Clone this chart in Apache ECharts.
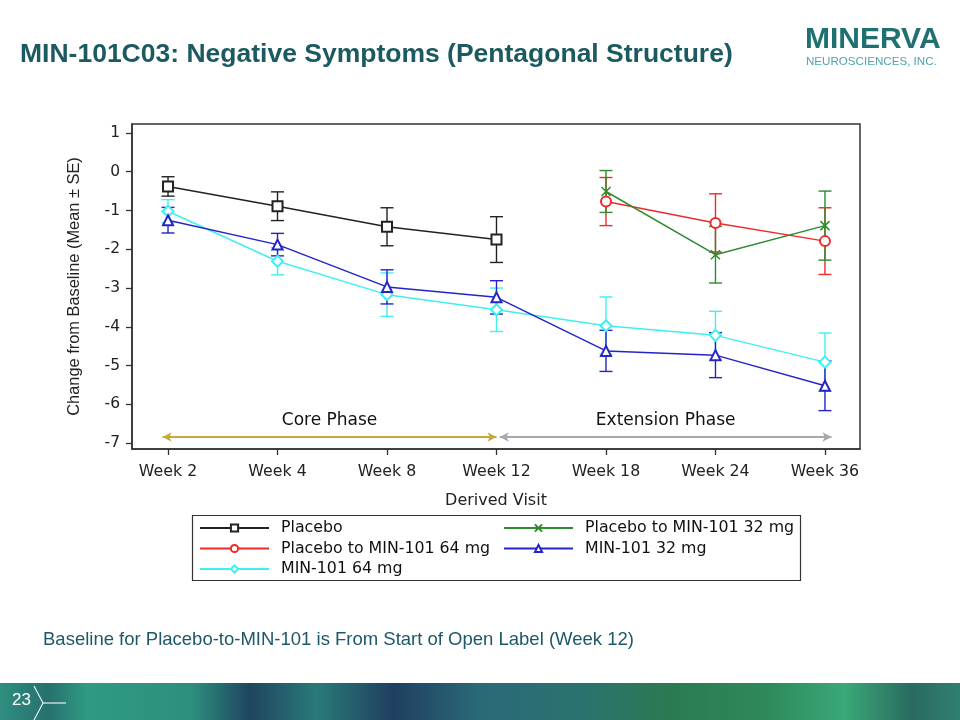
<!DOCTYPE html>
<html>
<head>
<meta charset="utf-8">
<script src="https://cdn.jsdelivr.net/npm/echarts@6/dist/echarts.min.js"></script>
<style>
html,body{margin:0;padding:0;background:#fff;}
#c{width:960px;height:720px;}
</style>
</head>
<body>
<div id="c"></div>
<script>
// ---- data ----
const categories = ['Week 2','Week 4','Week 8','Week 12','Week 18','Week 24','Week 36'];
const yTicks = [1,0,-1,-2,-3,-4,-5,-6,-7];

const placeboMean = [-0.38,-0.89,-1.42,-1.75,null,null,null];
const placeboSE   = [0.25,0.37,0.49,0.59,null,null,null];
const pl32Mean = [null,null,null,null,-0.51,-2.14,-1.39];
const pl32SE   = [null,null,null,null,0.54,0.73,0.89];
const pl64Mean = [null,null,null,null,-0.77,-1.32,-1.79];
const pl64SE   = [null,null,null,null,0.62,0.75,0.86];
const min32Mean = [-1.25,-1.88,-2.97,-3.24,-4.62,-4.73,-5.52];
const min32SE   = [0.33,0.29,0.44,0.43,0.53,0.58,0.64];
const min64Mean = [-1.02,-2.31,-3.17,-3.56,-3.97,-4.22,-4.91];
const min64SE   = [0.30,0.35,0.56,0.56,0.74,0.62,0.75];

const seriesNames = ['Placebo','Placebo to MIN-101 32 mg','Placebo to MIN-101 64 mg','MIN-101 32 mg','MIN-101 64 mg'];
const phaseLabels = ['Core Phase','Extension Phase'];
const corePhase = [-0.05, 3.0];
const extPhase = [3.03, 6.06];
const phaseY = -6.84;

// ---- build ----
const FONT = 'Liberation Sans, Arial, sans-serif';
const CFONT = 'DejaVu Sans, sans-serif';
const colors = {
  'Placebo':'#222222',
  'Placebo to MIN-101 32 mg':'#2e8b2e',
  'Placebo to MIN-101 64 mg':'#ee2a2a',
  'MIN-101 32 mg':'#2424c8',
  'MIN-101 64 mg':'#3ff0f0'
};
const symbols = {
  'Placebo':'emptyRect',
  'Placebo to MIN-101 32 mg':'path://M0,0L10,10M10,0L0,10',
  'Placebo to MIN-101 64 mg':'emptyCircle',
  'MIN-101 32 mg':'emptyTriangle',
  'MIN-101 64 mg':'emptyDiamond'
};
const means = {
  'Placebo':placeboMean,'Placebo to MIN-101 32 mg':pl32Mean,'Placebo to MIN-101 64 mg':pl64Mean,
  'MIN-101 32 mg':min32Mean,'MIN-101 64 mg':min64Mean
};
const ses = {
  'Placebo':placeboSE,'Placebo to MIN-101 32 mg':pl32SE,'Placebo to MIN-101 64 mg':pl64SE,
  'MIN-101 32 mg':min32SE,'MIN-101 64 mg':min64SE
};

function pts(arr){ const o=[]; arr.forEach((v,i)=>{ if(v!==null) o.push([i,v]); }); return o; }
function errs(m,s){ const o=[]; m.forEach((v,i)=>{ if(v!==null) o.push([i,v-s[i],v+s[i]]); }); return o; }

const series = [];
const drawOrder = ['MIN-101 64 mg','MIN-101 32 mg','Placebo to MIN-101 64 mg','Placebo to MIN-101 32 mg','Placebo'];
drawOrder.forEach(name=>{
  const col = colors[name];
  series.push({
    type:'custom', name:name+' (SE)', silent:true,
    data: errs(means[name], ses[name]),
    encode:{x:0,y:[1,2]},
    renderItem:function(params, api){
      const x=api.value(0), lo=api.value(1), hi=api.value(2);
      const a=api.coord([x,hi]), b=api.coord([x,lo]);
      const w=6.5, st={stroke:col, lineWidth:1.4};
      return {type:'group', children:[
        {type:'line', shape:{x1:a[0],y1:a[1],x2:b[0],y2:b[1]}, style:st},
        {type:'line', shape:{x1:a[0]-w,y1:a[1],x2:a[0]+w,y2:a[1]}, style:st},
        {type:'line', shape:{x1:b[0]-w,y1:b[1],x2:b[0]+w,y2:b[1]}, style:st}
      ]};
    },
    z:2
  });
  const isX = name==='Placebo to MIN-101 32 mg';
  series.push({
    type:'line', name:name,
    data: pts(means[name]),
    symbol: symbols[name],
    symbolSize: isX ? 9 : (name==='MIN-101 64 mg'?11:10),
    showAllSymbol:true,
    color: col,
    lineStyle:{color:col, width:1.5},
    itemStyle: isX ? {color:'rgba(0,0,0,0)', borderColor:col, borderWidth:1.5} : {color:col, borderColor:col, borderWidth:1.3},
    z:3
  });
});

// annotation series (zero line + phase arrows)
series.push({
  type:'line', name:'annot', data:[], silent:true,
  markLine:{
    silent:true, symbol:'none',
    data:[
      [{coord:[-0.33,0], lineStyle:{color:'#9a9a9a', type:[5,4], width:1.5}, label:{show:false}},{coord:[6.03,0]}],
      [{coord:[corePhase[0],phaseY], symbol:'arrow', symbolSize:[7,9], lineStyle:{color:'#c8a83a', width:2, type:'solid'},
        label:{show:true, formatter:phaseLabels[0], position:'middle', distance:8, color:'#111', fontSize:17, fontFamily:CFONT}},
       {coord:[corePhase[1],phaseY], symbol:'arrow', symbolSize:[7,9]}],
      [{coord:[extPhase[0],phaseY], symbol:'arrow', symbolSize:[7,9], lineStyle:{color:'#a8a8a8', width:2, type:'solid'},
        label:{show:true, formatter:phaseLabels[1], position:'middle', distance:8, color:'#111', fontSize:17, fontFamily:CFONT}},
       {coord:[extPhase[1],phaseY], symbol:'arrow', symbolSize:[7,9]}]
    ]
  }
});

const chart = echarts.init(document.getElementById('c'), null, {renderer:'canvas'});
const legendText = {color:'#111', fontSize:15.8, fontFamily:CFONT, lineHeight:16, padding:[0,0,0,7]};
chart.setOption({
  animation:false,
  backgroundColor:'#fff',
  textStyle:{fontFamily:FONT},
  title:{
    text:'MIN-101C03: Negative Symptoms (Pentagonal Structure)',
    left:20, top:41, padding:0,
    textStyle:{color:'#1b5a60', fontSize:26.5, fontWeight:'bold', fontFamily:FONT}
  },
  grid:{left:132, top:124, width:728, height:325, show:true, borderColor:'#333', borderWidth:1.5, backgroundColor:'#fff'},
  xAxis:{
    type:'value', min:-0.329, max:6.32,
    name:'Derived Visit', nameLocation:'middle', nameGap:44,
    nameTextStyle:{color:'#222', fontSize:16, fontFamily:CFONT},
    axisLine:{show:true, onZero:false, lineStyle:{color:'#333', width:1.5}},
    splitLine:{show:false},
    axisTick:{show:true, length:6, lineStyle:{color:'#333', width:1.3}, customValues:[0,1,2,3,4,5,6]},
    axisLabel:{customValues:[0,1,2,3,4,5,6], formatter:v=>categories[Math.round(v)], color:'#222', fontSize:15.8, margin:15, fontFamily:CFONT}
  },
  yAxis:{
    type:'value', min:-7.15, max:1.23,
    name:'Change from Baseline (Mean ± SE)', nameLocation:'middle', nameGap:50,
    nameTextStyle:{color:'#222', fontSize:16.4, fontFamily:FONT},
    axisLine:{show:true, onZero:false, lineStyle:{color:'#333', width:1.5}},
    splitLine:{show:false},
    axisTick:{show:true, length:6, lineStyle:{color:'#333', width:1.3}, customValues:yTicks},
    axisLabel:{customValues:yTicks, color:'#222', fontSize:15.5, margin:12, fontFamily:CFONT}
  },
  legend:[
    {data:['Placebo','Placebo to MIN-101 64 mg','MIN-101 64 mg'], orient:'vertical', left:199, top:520,
     itemWidth:69, itemHeight:9, itemGap:4.5, padding:0, textStyle:legendText, selectedMode:false},
    {data:['Placebo to MIN-101 32 mg','MIN-101 32 mg'], orient:'vertical', left:503, top:520,
     itemWidth:69, itemHeight:9, itemGap:4.5, padding:0, textStyle:legendText, selectedMode:false}
  ],
  graphic:[
    {type:'rect', shape:{x:192.5, y:515.5, width:608, height:65}, style:{fill:'none', stroke:'#333', lineWidth:1.2}, z:-1},
    {type:'text', left:805, top:25, style:{text:'MINERVA', fill:'#1f7070', font:'bold 30px '+FONT}},
    {type:'text', left:806, top:56, style:{text:'NEUROSCIENCES, INC.', fill:'#4fa3ab', font:'11.6px '+FONT}},
    {type:'text', left:43, top:630, style:{text:'Baseline for Placebo-to-MIN-101 is From Start of Open Label (Week 12)', fill:'#1d5868', font:'18.5px '+FONT}},
    {type:'rect', shape:{x:0, y:683, width:960, height:37}, style:{fill:new echarts.graphic.LinearGradient(0,0,1,0,[
      {offset:0, color:'#2f8f80'},{offset:0.05, color:'#26706e'},{offset:0.09, color:'#2f9a82'},
      {offset:0.2, color:'#2d8f7e'},{offset:0.26, color:'#1f4560'},{offset:0.33, color:'#2a7a78'},
      {offset:0.41, color:'#1f3f60'},{offset:0.5, color:'#2a6a78'},{offset:0.6, color:'#2a7270'},
      {offset:0.7, color:'#2b7a52'},{offset:0.8, color:'#2e8a5a'},{offset:0.88, color:'#3aa878'},
      {offset:0.95, color:'#2a6a60'},{offset:1, color:'#2f8070'}])}},
    {type:'text', left:12, top:692, style:{text:'23', fill:'#fff', font:'17px '+FONT}},
    {type:'polyline', shape:{points:[[34,686],[43,703],[34,720]]}, style:{stroke:'#e8f0f0', lineWidth:1.2, fill:'none'}},
    {type:'line', shape:{x1:43,y1:703,x2:66,y2:703}, style:{stroke:'#e8f0f0', lineWidth:1.2}}
  ],
  series:series
});
</script>
</body>
</html>
